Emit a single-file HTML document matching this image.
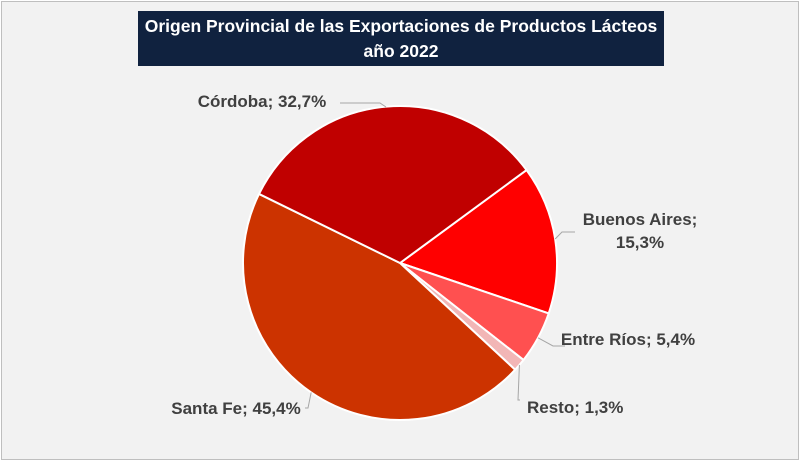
<!DOCTYPE html>
<html><head><meta charset="utf-8">
<style>
html,body{margin:0;padding:0;}
body{width:800px;height:461px;background:#fff;overflow:hidden;font-family:"Liberation Sans",sans-serif;}
#wrap{position:absolute;left:1px;top:1px;width:796px;height:457px;background:#F2F2F2;border:1px solid #BFBFBF;}
#title{position:absolute;left:136px;top:9px;width:526px;height:55px;background:#10223F;color:#fff;font-weight:bold;font-size:17.5px;text-align:center;line-height:25px;padding-top:3px;box-sizing:border-box;}
svg{position:absolute;left:0;top:0;}
.lbl{font-weight:bold;font-size:17px;fill:#404040;font-family:"Liberation Sans",sans-serif;}
</style></head><body>
<div id="wrap">
<div id="title">Origen Provincial de las Exportaciones de Productos Lácteos<br>año 2022</div>
</div>
<svg id="chart" width="800" height="461"></svg>
<script>
const categories = ["Buenos Aires","Entre Ríos","Resto","Santa Fe","Córdoba"];
const values = [15.3,5.4,1.3,45.4,32.7];
const labelsText = ["Buenos Aires;|15,3%","Entre Ríos; 5,4%","Resto; 1,3%","Santa Fe; 45,4%","Córdoba; 32,7%"];
const colors = ["#FF0000","#FF5050","#F2B6B6","#CC3300","#C00000"];
const NS="http://www.w3.org/2000/svg";
const svg=document.getElementById('chart');
const cx=400,cy=263,r=157,startDeg=53.7;
const total=values.reduce((a,b)=>a+b,0);
function pt(deg,rad){const a=deg*Math.PI/180;return [cx+rad*Math.sin(a),cy-rad*Math.cos(a)];}
let acc=startDeg;
const mids=[];
values.forEach((v,i)=>{
  const sweep=v/total*360;
  const a0=acc,a1=acc+sweep;acc=a1;
  mids.push((a0+a1)/2);
  const p0=pt(a0,r),p1=pt(a1,r);
  const path=document.createElementNS(NS,'path');
  path.setAttribute('d',`M${cx},${cy}L${p0[0]},${p0[1]}A${r},${r} 0 ${sweep>180?1:0} 1 ${p1[0]},${p1[1]}Z`);
  path.setAttribute('fill',colors[i]);
  path.setAttribute('stroke','#fff');
  path.setAttribute('stroke-width','2');
  
  
  svg.appendChild(path);
});
const lpos=[[640,225,"middle"],[628,345,"middle"],[527,413,"start"],[236,414,"middle"],[262,107,"middle"]];
const leaders=[[[575,232],[562,232],pt(mids[0],r)],[[565,346],[553,346],pt(mids[1],r)],[[520,400],[518,400],pt(mids[2],r)],[[305,408],[308,408],pt(mids[3],r)],[[340,103],[380,103],[386,107]]];
labelsText.forEach((t,i)=>{
  const [x,y,anc]=lpos[i];
  const txt=document.createElementNS(NS,'text');
  txt.setAttribute('class','lbl');
  txt.setAttribute('text-anchor',anc);
  
  
  const parts=t.split('|');
  parts.forEach((p,j)=>{const ts=document.createElementNS(NS,'tspan');ts.setAttribute('x',x);ts.setAttribute('y',y+j*23);ts.textContent=p;txt.appendChild(ts);});
  svg.appendChild(txt);
  const L=leaders[i];const e=L[2];
  const pl=document.createElementNS(NS,'polyline');
  pl.setAttribute('points',`${L[0][0]},${L[0][1]} ${L[1][0]},${L[1][1]} ${e[0]},${e[1]}`);
  pl.setAttribute('fill','none');pl.setAttribute('stroke','#A6A6A6');pl.setAttribute('stroke-width','1');
  
  
  svg.appendChild(pl);
});
</script>
</body></html>
